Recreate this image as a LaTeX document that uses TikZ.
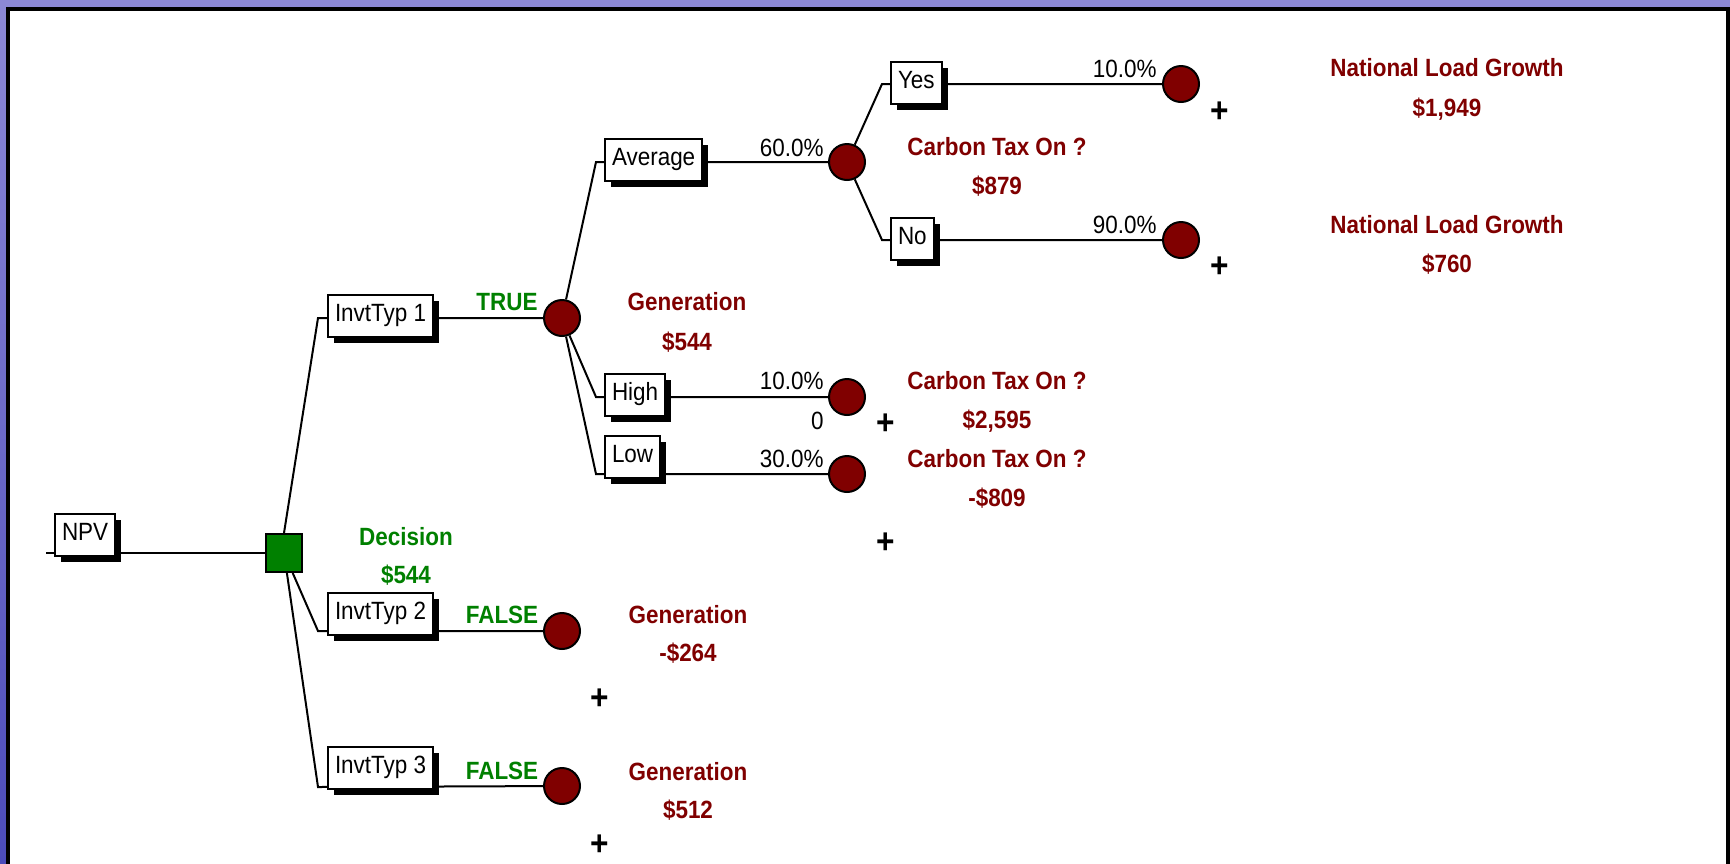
\documentclass[tikz,border=0pt]{standalone}
\usepackage{fontspec}
\setmainfont{Liberation Sans}[FakeStretch=0.9]
\usetikzlibrary{shadows}
\usetikzlibrary{positioning}

\newlength\pxu
\setlength\pxu{0.02cm}
\newcommand{\treesize}{\fontsize{14.2}{17}\selectfont}

\definecolor{chancered}{RGB}{128,0,0}
\definecolor{decgreen}{RGB}{0,128,0}
\definecolor{slideblue}{RGB}{76,76,186}
\definecolor{slidepale}{RGB}{140,136,214}

\tikzset{
  branch/.style={line width=2\pxu},
  lbl/.style={draw, fill=white, line width=2\pxu, anchor=north west,
    inner xsep=7\pxu, inner ysep=6\pxu, text height=20\pxu, text depth=10\pxu,
    drop shadow={fill=black, opacity=1, shadow xshift=6\pxu, shadow yshift=-6\pxu}},
  chance/.style={circle, draw, fill=chancered, line width=2\pxu,
    minimum size=36\pxu, inner sep=0pt},
  decide/.style={rectangle, draw, fill=decgreen, line width=2\pxu,
    minimum width=36\pxu, minimum height=38\pxu, inner sep=0pt},
  redtxt/.style={font=\treesize\bfseries, text=chancered, anchor=base, inner sep=0pt},
  grntxt/.style={font=\treesize\bfseries, text=decgreen, anchor=base, inner sep=0pt},
  prob/.style={anchor=base east, inner sep=0pt},
  plus/.style={font=\fontsize{20}{22}\selectfont\bfseries, inner sep=0pt}
}

\begin{document}
\begin{tikzpicture}[x=0.02cm, y=-0.02cm, font=\treesize]
  \useasboundingbox (0,0) rectangle (1730,863);
  % slide background and frame
  \shade[top color=slidepale, bottom color=slideblue] (0,0) rectangle (1730,863);
  \fill[white] (7.5,8.5) rectangle (1727.5,900);
  \draw[line width=4\pxu] (7.5,900) -- (7.5,8.5) -- (1727.5,8.5) -- (1727.5,900);

  % decision and chance nodes
  \node[decide] (dec) at (284,553) {};
  \node[chance] (gen1) at (562,318) {};
  \node[chance] (gen2) at (562,631) {};
  \node[chance] (gen3) at (562,786) {};
  \node[chance] (ctax1) at (847,162) {};
  \node[chance] (ctax2) at (847,397) {};
  \node[chance] (ctax3) at (847,474) {};
  \node[chance] (nlg1) at (1181,84) {};
  \node[chance] (nlg2) at (1181,240) {};

  % elbows of the branches
  \coordinate (root) at (46,553);
  \coordinate (k1) at (318,318);
  \coordinate (k2) at (318,631);
  \coordinate (k3) at (318,787);
  \coordinate (ka) at (596,162);
  \coordinate (kh) at (596,397);
  \coordinate (kl) at (596,474);
  \coordinate (ky) at (882,84);
  \coordinate (kn) at (882,240);

  \draw[branch] (root) -- (dec);
  \draw[branch] (dec.north) -- (k1) -- (gen1);
  \foreach \from/\via/\to in {dec/k2/gen2, dec/k3/gen3,
      gen1/ka/ctax1, gen1/kh/ctax2, gen1/kl/ctax3,
      ctax1/ky/nlg1, ctax1/kn/nlg2}
    \draw[branch] (\from) -- (\via) -- (\to);

  % branch labels
  \node[lbl] (npv) at (54,513) {NPV};
  \node[lbl] (inv1) at (327,294) {InvtTyp 1};
  \node[lbl] (inv2) at (327,592) {InvtTyp 2};
  \node[lbl] (inv3) at (327,746) {InvtTyp 3};
  \node[lbl] (avg) at (604,138) {Average};
  \node[lbl] (high) at (604,373) {High};
  \node[lbl] (low) at (604,435) {Low};
  \node[lbl] (yes) at (890,61) {Yes};
  \node[lbl] (no) at (890,217) {No};

  % probabilities
  \node[prob] (p60) at (824,156) {60.0\%};
  \node[prob] (p10a) at (1157,77) {10.0\%};
  \node[prob] (p90) at (1157,233) {90.0\%};
  \node[prob] (p10b) at (824,389) {10.0\%};
  \node[prob] (p30) at (824,467) {30.0\%};
  \node[prob] (zero) at (824,429) {0};

  % decision values
  \node[grntxt] (decname) at (406,545) {Decision};
  \node[grntxt] (decval) at (406,583) {\$544};
  \node[grntxt] (ch1) at (507,310) {TRUE};
  \node[grntxt] (ch2) at (502,623) {FALSE};
  \node[grntxt] (ch3) at (502,779) {FALSE};

  % chance values
  \node[redtxt] (gen1n) at (687,310) {Generation};
  \node[redtxt] (gen1v) at (687,350) {\$544};
  \node[redtxt] (gen2n) at (688,623) {Generation};
  \node[redtxt] (gen2v) at (688,661) {-\$264};
  \node[redtxt] (gen3n) at (688,780) {Generation};
  \node[redtxt] (gen3v) at (688,818) {\$512};
  \node[redtxt] (ctax1n) at (997,155) {Carbon Tax On ?};
  \node[redtxt] (ctax1v) at (997,194) {\$879};
  \node[redtxt] (ctax2n) at (997,389) {Carbon Tax On ?};
  \node[redtxt] (ctax2v) at (997,428) {\$2,595};
  \node[redtxt] (ctax3n) at (997,467) {Carbon Tax On ?};
  \node[redtxt] (ctax3v) at (997,506) {-\$809};
  \node[redtxt] (nlg1n) at (1447,76) {National Load Growth};
  \node[redtxt] (nlg1v) at (1447,116) {\$1,949};
  \node[redtxt] (nlg2n) at (1447,233) {National Load Growth};
  \node[redtxt] (nlg2v) at (1447,272) {\$760};

  % collapsed subtrees
  \foreach \x/\y [count=\i] in {1220/112, 1220/267, 886/424, 886/543, 600/699, 600/845}
    \node[plus] (plus\i) at (\x,\y) {+};
\end{tikzpicture}
\end{document}
